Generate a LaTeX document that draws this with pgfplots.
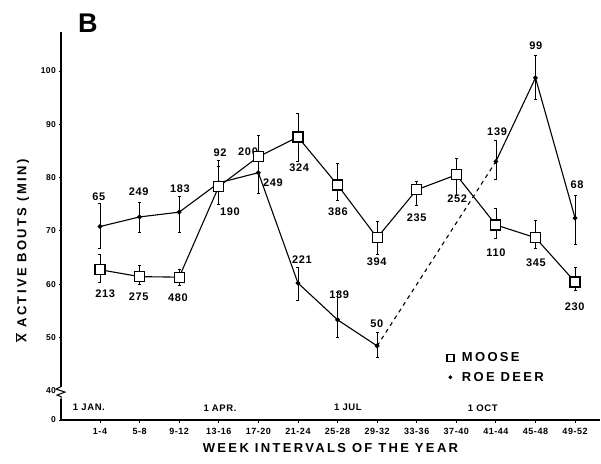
\documentclass[border=0pt]{standalone}
\usepackage{pgfplots}
\pgfplotsset{compat=1.18}
\usepackage{pgfplotstable}
\usepackage{fontspec}
\setmainfont{Liberation Sans}
\newfontfamily\spaced[LetterSpace=18]{Liberation Sans}
\newfontfamily\spacedsmall[LetterSpace=6]{Liberation Sans}

\pgfplotstableread{
x y ep em
0 62.7 2.8 2.3
1 61.4 2.2 1.5
2 61.3 1.5 1.5
3 78.3 3.7 3.3
4 83.9 4.1 6.8
5 87.6 4.4 4.6
6 78.6 4.1 2.8
7 68.7 3.0 3.2
8 77.7 1.5 3.0
9 80.5 3.0 3.8
10 71.1 3.2 2.5
11 68.7 3.3 2.0
12 60.4 2.8 1.5
}\moose

\pgfplotstableread{
x y ep em
0 70.8 4.4 4.0
1 72.6 2.8 2.8
2 73.5 2.9 3.7
3 79.0 4.3 4.0
4 80.9 3.0 3.8
5 60.2 3.0 3.2
6 53.3 5.1 3.3
7 48.4 2.6 2.2
}\roeA

\pgfplotstableread{
x y ep em
10 83.0 4.0 3.4
11 98.7 4.3 4.1
12 72.4 4.3 5.0
}\roeB

\begin{document}
\begin{tikzpicture}
\useasboundingbox (-61pt,-43pt) rectangle (540pt,420pt);
\begin{axis}[
  at={(0pt,0pt)}, anchor=south west,
  scale only axis, width=539pt, height=388pt,
  xmin=-0.985, xmax=12.63, ymin=34.5, ymax=107.3,
  axis x line=bottom, axis y line=left,
  axis line style={-, line width=1.1pt},
  clip=false,
  xtick={0,...,12},
  xticklabels={1-4,5-8,9-12,13-16,17-20,21-24,25-28,29-32,33-36,37-40,41-44,45-48,49-52},
  ytick={34.5,40,50,60,70,80,90,100},
  yticklabels={0,40,50,60,70,80,90,100},
  tick align=outside, major tick length=2.5pt,
  tick style={black, line width=0.8pt},
  xticklabel style={font=\spacedsmall\bfseries\fontsize{9}{10}\selectfont, yshift=-2pt},
  yticklabel style={font=\spacedsmall\bfseries\fontsize{8.5}{10}\selectfont, xshift=1pt},
  legend style={at={(rel axis cs:0.71,0.185)}, anchor=north west, draw=none, fill=none,
    font=\spaced\bfseries\fontsize{13}{14}\selectfont, row sep=5pt, /tikz/column sep=6pt},
  legend cell align=left,
]
\addlegendimage{only marks, mark=square*, mark options={fill=white, draw=black, line width=1.2pt}, mark size=3.5pt}
\addlegendentry{MOOSE}
\addlegendimage{only marks, mark=*, mark options={fill=black, draw=black}, mark size=1.7pt}
\addlegendentry{ROE DEER}

% roe deer dashed link
\addplot[black, line width=1.1pt, dashed, dash pattern=on 4pt off 4pt, forget plot] coordinates {(7,48.4) (10,83.0)};

\addplot[black, line width=1.1pt, mark=*, mark size=1.8pt, forget plot,
  error bars/.cd, y dir=both, y explicit, error bar style={line width=0.7pt},
  error mark=-, error mark options={mark size=1.5pt, line width=0.7pt, rotate=90}]
  table[x=x, y=y, y error plus=ep, y error minus=em]{\roeA};
\addplot[black, line width=1.1pt, mark=*, mark size=1.8pt, forget plot,
  error bars/.cd, y dir=both, y explicit, error bar style={line width=0.7pt},
  error mark=-, error mark options={mark size=1.5pt, line width=0.7pt, rotate=90}]
  table[x=x, y=y, y error plus=ep, y error minus=em]{\roeB};

\addplot[black, line width=1.1pt, mark=square*, mark size=5pt,
  mark options={fill=white, line width=1.2pt}, forget plot,
  error bars/.cd, y dir=both, y explicit, error bar style={line width=0.7pt},
  error mark=-, error mark options={mark size=1.5pt, line width=0.7pt, rotate=90}]
  table[x=x, y=y, y error plus=ep, y error minus=em]{\moose};

% sample size labels
\begin{scope}[every node/.style={font=\spacedsmall\bfseries\fontsize{11}{12}\selectfont, inner sep=0pt}]
% moose
\node at (axis cs:0.13,58.2) {213};
\node at (axis cs:0.98,57.6) {275};
\node at (axis cs:1.97,57.4) {480};
\node at (axis cs:3.28,73.6) {190};
\node at (axis cs:3.74,84.8) {200};
\node at (axis cs:5.03,81.8) {324};
\node at (axis cs:6.01,73.6) {386};
\node at (axis cs:6.99,64.2) {394};
\node at (axis cs:8.00,72.4) {235};
\node at (axis cs:9.02,76.0) {252};
\node at (axis cs:10.0,65.9) {110};
\node at (axis cs:11.01,64.0) {345};
\node at (axis cs:11.99,55.7) {230};
% roe deer
\node at (axis cs:-0.03,76.4) {65};
\node at (axis cs:0.98,77.3) {249};
\node at (axis cs:2.02,77.9) {183};
\node at (axis cs:3.03,84.6) {92};
\node at (axis cs:4.37,79.0) {249};
\node at (axis cs:5.10,64.6) {221};
\node at (axis cs:6.04,58.0) {139};
\node at (axis cs:6.99,52.6) {50};
\node at (axis cs:10.03,88.6) {139};
\node at (axis cs:11.01,104.7) {99};
\node at (axis cs:12.05,78.6) {68};
\end{scope}

% month labels
\begin{scope}[every node/.style={font=\spacedsmall\bfseries\fontsize{9.5}{10}\selectfont, inner sep=0pt}]
\node at (axis cs:-0.28,36.8) {1 JAN.};
\node at (axis cs:3.03,36.8) {1 APR.};
\node at (axis cs:6.26,36.8) {1 JUL};
\node at (axis cs:9.67,36.8) {1 OCT};
\end{scope}

% axis break
\draw[white, line width=3pt] (rel axis cs:0,0.055) -- (rel axis cs:0,0.085);
\draw[black, line width=1pt] (rel axis cs:0,0.09) -- ++(0pt,-1.5pt) -- ++(-5pt,-2.5pt) -- ++(9pt,-3pt) -- ++(-8pt,-3pt) -- ++(4pt,-1.5pt) -- (rel axis cs:0,0.05);

% axis titles
\node[font=\bfseries\fontsize{27}{28}\selectfont, inner sep=0pt] at (rel axis cs:0.05,1.023) {B};
\node[rotate=90, font=\spaced\bfseries\fontsize{13}{14}\selectfont, inner sep=0pt] at (rel axis cs:-0.072,0.436) {$\overline{\hbox{X}}$ ACTIVE BOUTS (MIN)};
\node[font=\spaced\bfseries\fontsize{13}{14}\selectfont, inner sep=0pt] at (rel axis cs:0.5,-0.072) {WEEK INTERVALS OF THE YEAR};
\end{axis}
\end{tikzpicture}
\end{document}
